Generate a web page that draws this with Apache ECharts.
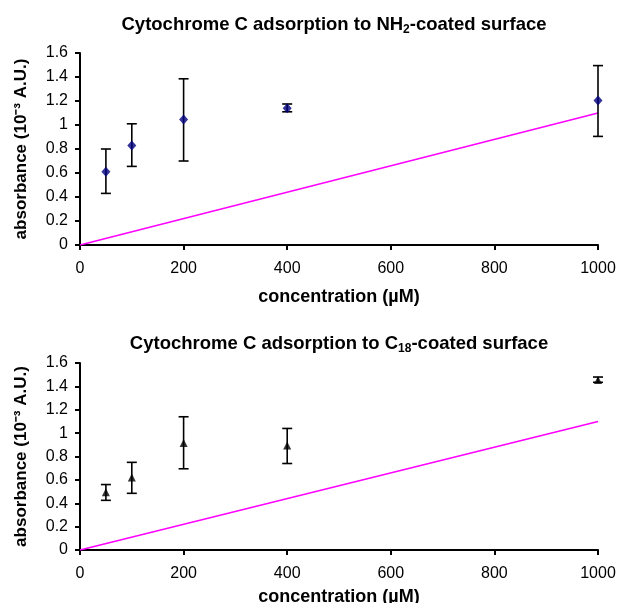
<!DOCTYPE html>
<html>
<head>
<meta charset="utf-8">
<script src="https://cdn.jsdelivr.net/npm/echarts@6/dist/echarts.min.js"></script>
<style>
  html, body { margin: 0; padding: 0; background: #fff; }
  #chart { width: 628px; height: 603px; }
</style>
</head>
<body>
<div id="chart"></div>
<script>
// concentration (uM)
var concNH2 = [50, 100, 200, 400, 1000];
var absNH2 = [0.61, 0.83, 1.045, 1.14, 1.205];
var lowNH2 = [0.43, 0.655, 0.70, 1.11, 0.905];
var highNH2 = [0.80, 1.01, 1.385, 1.175, 1.495];

var concC18 = [50, 100, 200, 400, 1000];
var absC18 = [0.495, 0.62, 0.915, 0.895, 1.455];
var lowC18 = [0.425, 0.485, 0.695, 0.74, 1.435];
var highC18 = [0.56, 0.75, 1.14, 1.04, 1.48];

// reference line (pink), both panels
var refLine = [[0, 0], [1000, 1.1]];

var xTicks = { min: 0, max: 1000, interval: 200 };
var yTicks = { min: 0, max: 1.6, interval: 0.2 };

function pairs(xs, ys) {
  return xs.map(function (x, i) { return [x, ys[i]]; });
}
function errData(xs, lo, hi) {
  return xs.map(function (x, i) { return [x, lo[i], hi[i]]; });
}

function errRender(params, api) {
  var x = api.value(0);
  var lo = api.coord([x, api.value(1)]);
  var hi = api.coord([x, api.value(2)]);
  var cap = 5;
  var style = { stroke: '#000', lineWidth: 1.6 };
  return {
    type: 'group',
    children: [
      { type: 'line', shape: { x1: lo[0], y1: lo[1], x2: hi[0], y2: hi[1] }, style: style },
      { type: 'line', shape: { x1: lo[0] - cap, y1: lo[1], x2: lo[0] + cap, y2: lo[1] }, style: style },
      { type: 'line', shape: { x1: hi[0] - cap, y1: hi[1], x2: hi[0] + cap, y2: hi[1] }, style: style }
    ]
  };
}

var font = 'Liberation Sans, Arial, sans-serif';

function xAxis(idx, gap) {
  return {
    type: 'value', gridIndex: idx,
    min: xTicks.min, max: xTicks.max, interval: xTicks.interval,
    name: 'concentration (µM)', nameLocation: 'middle', nameGap: gap,
    nameTextStyle: { fontFamily: font, fontWeight: 'bold', fontSize: 18, color: '#000' },
    axisLine: { lineStyle: { color: '#000', width: 2 } },
    axisTick: { lineStyle: { color: '#000', width: 2 }, length: 5 },
    axisLabel: { fontFamily: font, fontSize: 16, color: '#000', margin: 16,
      formatter: function (v) { return String(v); } },
    splitLine: { show: false }
  };
}
function yAxis(idx) {
  return {
    type: 'value', gridIndex: idx,
    min: yTicks.min, max: yTicks.max, interval: yTicks.interval,
    name: 'absorbance (10⁻³ A.U.)', nameLocation: 'middle', nameGap: 50, nameRotate: 90,
    nameTextStyle: { fontFamily: font, fontWeight: 'bold', fontSize: 17, color: '#000' },
    axisLine: { show: true, lineStyle: { color: '#000', width: 2 } },
    axisTick: { show: true, lineStyle: { color: '#000', width: 2 }, length: 5 },
    axisLabel: { fontFamily: font, fontSize: 16, color: '#000', margin: 12 },
    splitLine: { show: false }
  };
}

function titleText(main, sub, tail) {
  return '{a|' + main + '}{s|' + sub + '}{a|' + tail + '}';
}
var titleRich = {
  a: { fontFamily: font, fontWeight: 'bold', fontSize: 18.5, color: '#000', lineHeight: 22 },
  s: { fontFamily: font, fontWeight: 'bold', fontSize: 12, color: '#000', lineHeight: 16, verticalAlign: 'bottom', padding: [7, 0, 0, 0] }
};

var myChart = echarts.init(document.getElementById('chart'));
var option = {
  animation: false,
  backgroundColor: '#fff',
  title: [
    { text: titleText('Cytochrome C adsorption to NH', '2', '-coated surface'), left: 329, top: 9, textAlign: 'center',
      textStyle: { rich: titleRich } },
    { text: titleText('Cytochrome C adsorption to C', '18', '-coated surface'), left: 334, top: 328, textAlign: 'center',
      textStyle: { rich: titleRich } }
  ],
  grid: [
    { left: 80, right: 30, top: 53, height: 192, outerBoundsMode: 'none', containLabel: false },
    { left: 80, right: 30, top: 363, height: 187, outerBoundsMode: 'none', containLabel: false }
  ],
  xAxis: [xAxis(0, 43), xAxis(1, 38)],
  yAxis: [yAxis(0), yAxis(1)],
  series: [
    { type: 'line', xAxisIndex: 0, yAxisIndex: 0, data: refLine, showSymbol: false,
      lineStyle: { color: '#ff00ff', width: 1.5 }, z: 1 },
    { type: 'custom', xAxisIndex: 0, yAxisIndex: 0, renderItem: errRender,
      data: errData(concNH2, lowNH2, highNH2), z: 2 },
    { type: 'scatter', xAxisIndex: 0, yAxisIndex: 0, data: pairs(concNH2, absNH2),
      symbol: 'diamond', symbolSize: [9, 10], itemStyle: { color: '#000080' }, z: 3 },

    { type: 'line', xAxisIndex: 1, yAxisIndex: 1, data: refLine, showSymbol: false,
      lineStyle: { color: '#ff00ff', width: 1.5 }, z: 1 },
    { type: 'custom', xAxisIndex: 1, yAxisIndex: 1, renderItem: errRender,
      data: errData(concC18, lowC18, highC18), z: 2 },
    { type: 'scatter', xAxisIndex: 1, yAxisIndex: 1, data: pairs(concC18, absC18),
      symbol: 'triangle', symbolSize: 8, itemStyle: { color: '#000' }, z: 3 }
  ]
};
myChart.setOption(option);
</script>
</body>
</html>
